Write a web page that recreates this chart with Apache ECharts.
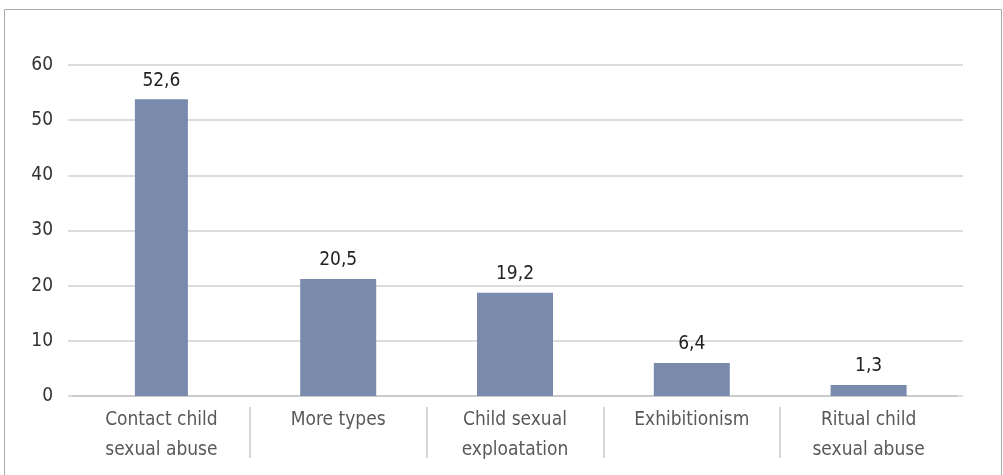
<!DOCTYPE html>
<html>
<head>
<meta charset="utf-8">
<script src="https://cdn.jsdelivr.net/npm/echarts@6/dist/echarts.min.js"></script>
<style>
  html, body { margin: 0; padding: 0; background: #fff; }
  #chart { width: 1003px; height: 475px; }
</style>
</head>
<body>
<div id="chart"></div>
<script>
// categories and values
var categories = ["Contact child\nsexual abuse", "More types", "Child sexual\nexploatation", "Exhibitionism", "Ritual child\nsexual abuse"];
var valueLabels = ["52,6", "20,5", "19,2", "6,4", "1,3"];
// bar heights as drawn on the axis
var barHeights = [53.8, 21.2, 18.7, 6.0, 2.0];
var yTicks = [0, 10, 20, 30, 40, 50, 60];

var font = "'Liberation Sans Narrow', 'DejaVu Sans Condensed', sans-serif";

var chart = echarts.init(document.getElementById("chart"));

// first bar is narrower than the rest in the original, so it sits on its own axis
var firstBar = barHeights.map(function (v, i) { return i === 0 ? v : "-"; });
var otherBars = barHeights.map(function (v, i) { return i === 0 ? "-" : v; });

var barLabel = {
  show: true,
  position: "top",
  distance: 9,
  color: "#222",
  fontSize: 19,
  fontFamily: font,
  formatter: function (p) { return valueLabels[p.dataIndex]; }
};

var hiddenCat = {
  type: "category", data: categories,
  axisLine: { show: false }, axisTick: { show: false },
  axisLabel: { show: false }, splitLine: { show: false }
};

chart.setOption({
  animation: false,
  graphic: [{
    type: "rect",
    shape: { x: 4.5, y: 9.5, width: 997, height: 500 },
    style: { fill: "none", stroke: "#aaaaaa", lineWidth: 1 },
    silent: true
  }],
  grid: [
    { left: 68, right: 40, top: 65, bottom: 79 },
    { left: 73, right: 46, top: 65, bottom: 79 },
    { left: 73, right: 46, top: 407, bottom: 17 },
    { left: 73, right: 46, top: 65, bottom: 79 }
  ],
  xAxis: [
    {
      gridIndex: 0, type: "value", min: 0, max: 1,
      axisLine: { show: false }, axisTick: { show: false },
      axisLabel: { show: false }, splitLine: { show: false }
    },
    {
      gridIndex: 1, type: "category", data: categories,
      axisLine: { show: true, lineStyle: { color: "#c4c4c4", width: 1.5 } },
      axisTick: { show: false },
      axisLabel: {
        margin: 9, color: "#595959", fontSize: 19, lineHeight: 30,
        fontFamily: font, interval: 0
      }
    },
    {
      gridIndex: 2, type: "category", data: categories,
      axisLine: { show: false }, axisTick: { show: false }, axisLabel: { show: false },
      splitLine: {
        show: true, showMinLine: false, showMaxLine: false,
        lineStyle: { color: "#c8c8c8", width: 1.5 }
      }
    },
    Object.assign({ gridIndex: 3 }, hiddenCat)
  ],
  yAxis: [
    {
      gridIndex: 0, type: "value", min: 0, max: 60, interval: 10,
      axisLine: { show: false }, axisTick: { show: false },
      axisLabel: { margin: 15, color: "#333", fontSize: 19, fontFamily: font },
      splitLine: { lineStyle: { color: "#d0d0d0", width: 1.5 } }
    },
    {
      gridIndex: 1, type: "value", min: 0, max: 60, interval: 10, show: false
    },
    {
      gridIndex: 2, type: "value", min: 0, max: 1, show: false
    },
    {
      gridIndex: 3, type: "value", min: 0, max: 60, interval: 10, show: false
    }
  ],
  series: [
    {
      type: "bar", xAxisIndex: 3, yAxisIndex: 3,
      data: firstBar, barWidth: 53,
      itemStyle: { color: "#7a8aad" },
      label: barLabel
    },
    {
      type: "bar", xAxisIndex: 1, yAxisIndex: 1,
      data: otherBars, barWidth: 76,
      itemStyle: { color: "#7a8aad" },
      label: barLabel
    }
  ]
});
</script>
</body>
</html>
